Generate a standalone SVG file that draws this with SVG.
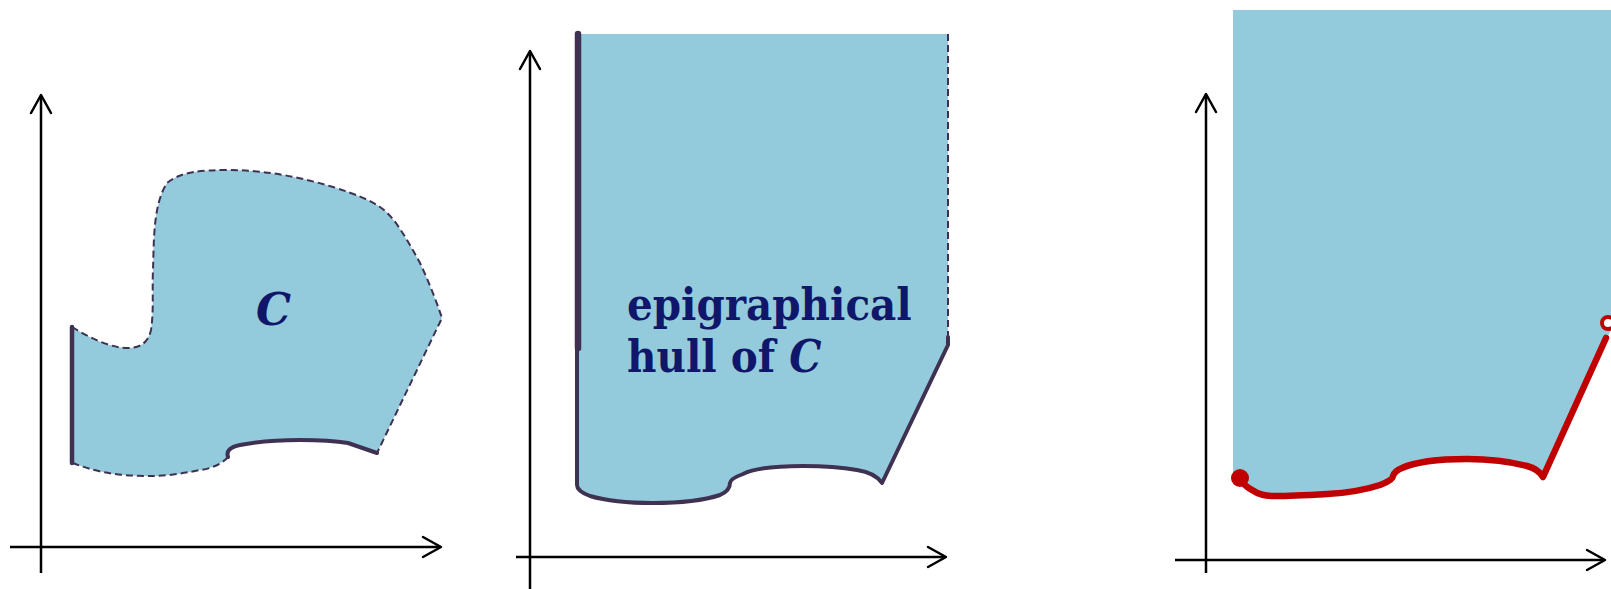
<svg xmlns="http://www.w3.org/2000/svg" width="1611" height="589" viewBox="0 0 1611 589">
<style>
.fill{fill:#94cbdc;stroke:none}
.axis{stroke:#000;stroke-width:2.5;fill:none}
.head{stroke:#000;stroke-width:2.5;fill:none;stroke-linecap:round;stroke-linejoin:round}
.edge{stroke:#3f3151;fill:none;stroke-linecap:round;stroke-linejoin:round}
.dash{stroke:#3f3151;stroke-width:2;fill:none;stroke-dasharray:7 4}
.red{stroke:#c00000;stroke-width:6.5;fill:none;stroke-linecap:round;stroke-linejoin:round}
.lbl{font-family:"DejaVu Serif","Liberation Serif",serif;font-weight:bold;fill:#10176a}
.cond{font-family:"DejaVu Serif Condensed","DejaVu Serif",serif;font-stretch:condensed}
</style>
<g id="axes">
<line class="axis" x1="41" y1="573" x2="41" y2="96"/>
<polyline class="head" points="31,113 41,95 51,113"/>
<line class="axis" x1="10" y1="547" x2="440" y2="547"/>
<polyline class="head" points="423,537 441,547 423,557"/>
<line class="axis" x1="530" y1="589" x2="530" y2="52"/>
<polyline class="head" points="520,69 530,51 540,69"/>
<line class="axis" x1="516" y1="557" x2="945" y2="557"/>
<polyline class="head" points="928,547 946,557 928,567"/>
<line class="axis" x1="1206" y1="573" x2="1206" y2="95"/>
<polyline class="head" points="1196,112 1206,94 1216,112"/>
<line class="axis" x1="1175" y1="560" x2="1604" y2="560"/>
<polyline class="head" points="1587,550 1605,560 1587,570"/>
</g>
<g id="setC">
<path class="fill" d="M72,327 C90,338 110,348 128,348 C140,348 148,343 151,330 C154,310 152,290 153,270 C154,240 153,205 167,183 C180,172 200,170 227,170 C265,170 300,177 333,187 C355,194 370,200 380,207 C392,215 402,230 420,263 C428,280 436,300 442,318 L377,453 L348,443 C330,440 315,440 300,440 C275,440 260,441 240,445 C230,447 226,451 228,457 C222,464 210,469 200,470 C180,474 165,476 150,476 C125,476 100,474 73,463 Z"/>
<path class="dash" d="M72,327 C90,338 110,348 128,348 C140,348 148,343 151,330 C154,310 152,290 153,270 C154,240 153,205 167,183 C180,172 200,170 227,170 C265,170 300,177 333,187 C355,194 370,200 380,207 C392,215 402,230 420,263 C428,280 436,300 442,318 L377,453"/>
<path class="dash" d="M228,457 C222,464 210,469 200,470 C180,474 165,476 150,476 C125,476 100,474 73,463"/>
<line class="edge" stroke-width="4.5" x1="72" y1="327" x2="72" y2="463" stroke-linecap="butt"/>
<path class="edge" stroke-width="4" d="M377,453 L348,443 C330,440 315,440 300,440 C275,440 260,441 240,445 C230,447 226,451 228,457"/>
<text class="lbl" x="256" y="325" font-size="44" font-style="italic">C</text>
</g>
<g id="hull">
<path class="fill" d="M576,34 H948 V345 L882,483 C878,477 870,472 857,470 C840,467 820,466 803,466 C780,466 755,468 743,474 C735,477 730,480 730,483 C730,488 727,492 720,495 C705,500 680,503 653,503 C630,503 607,501 590,496 C582,493 577,490 577,485 Z"/>
<line class="edge" stroke-width="6.5" x1="578" y1="34" x2="578" y2="348" stroke-linecap="butt"/>
<path class="edge" stroke-width="4" d="M577,350 V485 C577,490 582,493 590,496 C607,501 630,503 653,503 C680,503 705,500 720,495 C727,492 730,488 730,483 C730,480 735,477 743,474 C755,468 780,466 803,466 C820,466 840,467 857,470 C870,472 878,477 882,483 L948,345 V337"/>
<line class="dash" x1="948" y1="34" x2="948" y2="337" stroke="#1b2466" stroke-width="1.8"/>
<text class="lbl cond" x="627" y="320" font-size="45">epigraphical</text>
<text class="lbl cond" x="627" y="372" font-size="45">hull of <tspan font-style="italic">C</tspan></text>
</g>
<g id="epigraph">
<path class="fill" d="M1233,10 H1611 V330 L1608,336 L1543,477 C1538,471 1530,468 1527,468 C1510,464 1490,459 1467,459 C1440,459 1415,462 1400,468 C1395,471 1393,474 1393,476 C1390,481 1385,484 1380,485 C1360,492 1340,494 1327,494 C1305,495 1285,496 1273,496 C1258,496 1250,492 1248,488 L1240,478 H1233 Z"/>
<path class="red" d="M1240,478 C1243,484 1248,488 1252,490 C1258,494 1265,496 1273,496 C1285,496 1305,495 1327,494 C1345,493 1365,490 1380,485 C1388,482 1393,479 1393,476 C1394,472 1397,470 1402,468 C1415,462 1440,459 1467,459 C1490,459 1512,462 1527,466 C1535,468 1540,472 1543,477 L1606,338"/>
<circle cx="1240" cy="478" r="9" fill="#c00000"/>
<circle cx="1608" cy="323" r="6" fill="#fff" stroke="#c00000" stroke-width="4"/>
</g>
</svg>
